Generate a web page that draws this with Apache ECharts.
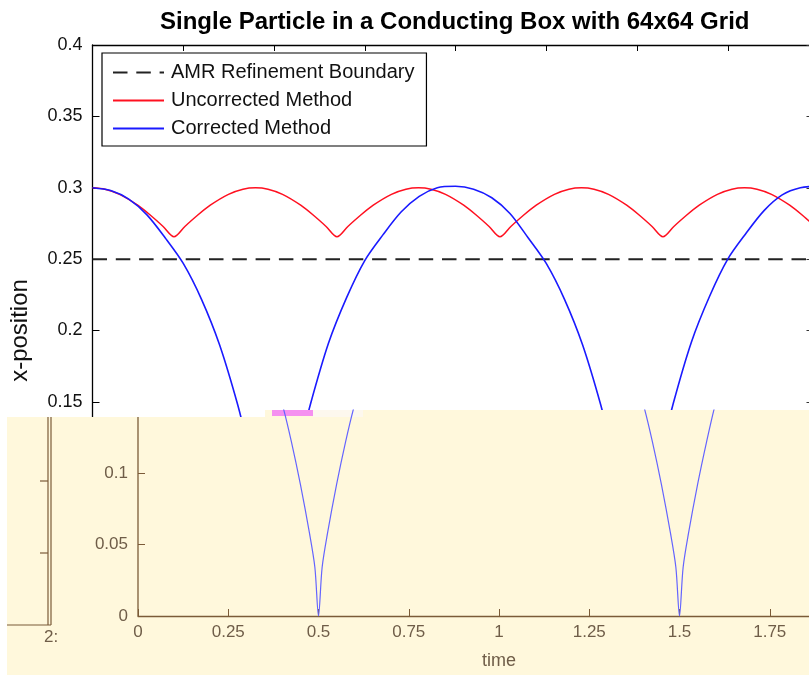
<!DOCTYPE html>
<html>
<head>
<meta charset="utf-8">
<script src="https://cdn.jsdelivr.net/npm/echarts@6/dist/echarts.min.js"></script>
<style>
html,body{margin:0;padding:0;background:#fff;}
#chart{width:809px;height:675px;}
</style>
</head>
<body>
<div id="chart"></div>
<script>
// ---- data ----
const titleText = 'Single Particle in a Conducting Box with 64x64 Grid';
const seriesNames = ['AMR Refinement Boundary', 'Uncorrected Method', 'Corrected Method'];

const boundaryTime = [0, 2];
const boundaryX = [0.25, 0.25];

const uncorrTime = [0, 0.0345, 0.0745, 0.1245, 0.1645, 0.1945, 0.2245, 0.2545, 0.2845, 0.3245, 0.3745, 0.4145, 0.449,
  0.4835, 0.5235, 0.5735, 0.6135, 0.6435, 0.6735, 0.7035, 0.7335, 0.7735, 0.8235, 0.8635, 0.898,
  0.9325, 0.9725, 1.0225, 1.0625, 1.0925, 1.1225, 1.1525, 1.1825, 1.2225, 1.2725, 1.3125, 1.347,
  1.3815, 1.4215, 1.4715, 1.5115, 1.5415, 1.5715, 1.6015, 1.6315, 1.6715, 1.7215, 1.7615, 1.796,
  1.8305, 1.8705, 1.9205, 1.9605, 1.9905, 2.0];
const uncorrX = [0.300, 0.299, 0.2954, 0.2878, 0.2797, 0.2729, 0.2657, 0.2729, 0.2797, 0.2878, 0.2954, 0.299, 0.300,
  0.299, 0.2954, 0.2878, 0.2797, 0.2729, 0.2657, 0.2729, 0.2797, 0.2878, 0.2954, 0.299, 0.300,
  0.299, 0.2954, 0.2878, 0.2797, 0.2729, 0.2657, 0.2729, 0.2797, 0.2878, 0.2954, 0.299, 0.300,
  0.299, 0.2954, 0.2878, 0.2797, 0.2729, 0.2657, 0.2729, 0.2797, 0.2878, 0.2954, 0.299, 0.300,
  0.299, 0.2954, 0.2878, 0.2797, 0.2729, 0.271];

const corrTime = [0, 0.05, 0.1, 0.15, 0.2, 0.25, 0.3, 0.35, 0.4, 0.425, 0.45, 0.475, 0.49, 0.5,
  0.51, 0.525, 0.55, 0.575, 0.6, 0.65, 0.7, 0.75, 0.8, 0.85, 0.9, 0.95, 1.0,
  1.05, 1.1, 1.15, 1.2, 1.25, 1.3, 1.35, 1.4, 1.425, 1.45, 1.475, 1.49, 1.5,
  1.51, 1.525, 1.55, 1.575, 1.6, 1.65, 1.7, 1.75, 1.8, 1.85, 1.9, 1.95, 2.0];
const corrX = [0.300, 0.298, 0.292, 0.281, 0.265, 0.247, 0.222, 0.190, 0.148, 0.122, 0.092, 0.058, 0.034, 0.000,
  0.034, 0.058, 0.092, 0.122, 0.148, 0.191, 0.223, 0.249, 0.267, 0.283, 0.294, 0.300, 0.301,
  0.299, 0.293, 0.282, 0.265, 0.247, 0.222, 0.190, 0.148, 0.122, 0.092, 0.058, 0.034, 0.000,
  0.034, 0.058, 0.092, 0.122, 0.149, 0.192, 0.224, 0.250, 0.268, 0.284, 0.295, 0.300, 0.301];

const xTicks = { min: 0, max: 2, step: 0.25 };
const yTicks = { min: 0, max: 0.4, step: 0.05 };

const pairs = (t, v) => t.map((x, i) => [x, v[i]]);

const FONT = '"Liberation Sans", Arial, sans-serif';
const BROWN = '#7b5b38';
const BROWN_TXT = '#6f5d48';

const chart = echarts.init(document.getElementById('chart'), null, {renderer: 'canvas'});

const option = {
  animation: false,
  backgroundColor: '#ffffff',
  title: {
    text: titleText,
    left: 155, top: 5,
    textStyle: {fontFamily: FONT, fontSize: 24, fontWeight: 'bold', color: '#000'}
  },
  legend: {
    data: seriesNames,
    orient: 'vertical',
    left: 102, top: 53,
    padding: [9, 12, 7, 10],
    itemGap: 7,
    itemWidth: 51, itemHeight: 14,
    backgroundColor: '#ffffff',
    borderColor: '#000', borderWidth: 1.2,
    itemStyle: {opacity: 0},
    textStyle: {fontFamily: FONT, fontSize: 20, color: '#111', lineHeight: 21, padding: [0, 0, 0, 2]},
    z: 10
  },
  grid: [
    {left: 92.5, top: 45, width: 726, height: 571, containLabel: false, outerBoundsMode: 'none'},
    {left: 138, top: 410, width: 722, height: 206, containLabel: false, outerBoundsMode: 'none'}
  ],
  xAxis: [
    {gridIndex: 0, type: 'value', min: xTicks.min, max: xTicks.max, interval: xTicks.step, position: 'bottom',
      axisLine: {onZero: false, lineStyle: {color: '#000', width: 1.3}}, axisTick: {inside: true, length: 7, lineStyle: {color: '#000'}},
      axisLabel: {show: false}, splitLine: {show: false}},
    {gridIndex: 0, type: 'value', min: xTicks.min, max: xTicks.max, interval: xTicks.step, position: 'top',
      axisLine: {show: true, onZero: false, lineStyle: {color: '#000', width: 1.3}}, axisTick: {show: true, inside: true, length: 6, lineStyle: {color: '#000'}},
      axisLabel: {show: false}, splitLine: {show: false}},
    {gridIndex: 1, type: 'value', min: xTicks.min, max: xTicks.max, interval: xTicks.step, position: 'bottom', z: 60,
      axisLine: {onZero: false, lineStyle: {color: BROWN, width: 1.3}}, axisTick: {inside: true, length: 7, lineStyle: {color: BROWN}},
      axisLabel: {fontFamily: FONT, fontSize: 17, color: BROWN_TXT, margin: 8},
      splitLine: {show: false},
      name: 'time', nameLocation: 'middle', nameGap: 36,
      nameTextStyle: {fontFamily: FONT, fontSize: 18, color: BROWN_TXT}}
  ],
  yAxis: [
    {gridIndex: 0, type: 'value', min: yTicks.min, max: yTicks.max, interval: yTicks.step, position: 'left',
      axisLine: {show: true, onZero: false, lineStyle: {color: '#000', width: 1.3}},
      axisTick: {show: true, inside: true, length: 7, lineStyle: {color: '#000'}},
      axisLabel: {fontFamily: FONT, fontSize: 18, color: '#111', margin: 10,
        formatter: v => (v >= 0.149 ? String(+v.toFixed(2)) : '')},
      splitLine: {show: false},
      name: 'x-position', nameLocation: 'middle', nameGap: 60, nameRotate: 90,
      nameTextStyle: {fontFamily: FONT, fontSize: 24, color: '#111'}},
    {gridIndex: 0, type: 'value', min: yTicks.min, max: yTicks.max, interval: yTicks.step, position: 'right',
      axisLine: {show: true, onZero: false, lineStyle: {color: '#000'}},
      axisTick: {show: true, inside: true, length: 12, lineStyle: {color: '#333'}},
      axisLabel: {show: false}, splitLine: {show: false}},
    {gridIndex: 1, type: 'value', min: 0, max: 0.1443, interval: 0.05, position: 'left', z: 60,
      axisLine: {show: false, onZero: false},
      axisTick: {show: true, inside: true, length: 7, lineStyle: {color: BROWN}},
      axisLabel: {fontFamily: FONT, fontSize: 17, color: BROWN_TXT, margin: 10, showMaxLabel: false,
        formatter: v => String(+v.toFixed(2))},
      splitLine: {show: false}}
  ],
  series: [
    {name: seriesNames[0], type: 'line', xAxisIndex: 0, yAxisIndex: 0, showSymbol: false, symbol: 'none',
      data: pairs(boundaryTime, boundaryX),
      lineStyle: {color: '#222', width: 2, type: [14.5, 8.8]}, itemStyle: {color: '#222'}},
    {name: seriesNames[1], type: 'line', xAxisIndex: 0, yAxisIndex: 0, showSymbol: false, symbol: 'none', smooth: 0.3,
      data: pairs(uncorrTime, uncorrX),
      lineStyle: {color: '#ff1020', width: 1.5}, itemStyle: {color: '#ff1020'}},
    {name: seriesNames[2], type: 'line', xAxisIndex: 0, yAxisIndex: 0, showSymbol: false, symbol: 'none', smooth: 0.3,
      data: pairs(corrTime, corrX),
      lineStyle: {color: '#1a1aff', width: 1.6}, itemStyle: {color: '#1a1aff'}},
    {name: 'Corrected (inset)', type: 'line', xAxisIndex: 2, yAxisIndex: 2, showSymbol: false, symbol: 'none', smooth: 0.3,
      data: pairs(corrTime, corrX), z: 60, clip: true, legendHoverLink: false,
      lineStyle: {color: '#6464ff', width: 1.2}, itemStyle: {color: '#6464ff'}}
  ],
  graphic: [
    {type: 'polygon', z: 50, silent: true,
      shape: {points: [[7, 417], [265, 417], [265, 410], [809, 410], [809, 675], [7, 675]]},
      style: {fill: '#fff8dc'}},
    {type: 'rect', z: 51, silent: true, shape: {x: 272, y: 410, width: 41, height: 6}, style: {fill: '#f590f0'}},
    {type: 'rect', z: 51, silent: true, shape: {x: 313, y: 410, width: 50, height: 7}, style: {fill: '#fdf8ee'}},
    {type: 'line', z: 55, silent: true, shape: {x1: 48, y1: 417, x2: 48, y2: 625}, style: {stroke: BROWN, lineWidth: 1.2}},
    {type: 'line', z: 55, silent: true, shape: {x1: 51, y1: 417, x2: 51, y2: 625}, style: {stroke: BROWN, lineWidth: 1.2}},
    {type: 'line', z: 55, silent: true, shape: {x1: 7, y1: 625, x2: 51, y2: 625}, style: {stroke: BROWN, lineWidth: 1.2}},
    {type: 'line', z: 55, silent: true, shape: {x1: 40, y1: 481, x2: 48, y2: 481}, style: {stroke: BROWN, lineWidth: 1.2}},
    {type: 'line', z: 55, silent: true, shape: {x1: 40, y1: 553, x2: 48, y2: 553}, style: {stroke: BROWN, lineWidth: 1.2}},
    {type: 'text', z: 55, silent: true, x: 44, y: 629,
      style: {text: '2:', font: '17px "Liberation Sans", Arial, sans-serif', fill: BROWN_TXT}},
    {type: 'line', z: 61, silent: true, shape: {x1: 138, y1: 417, x2: 138, y2: 616}, style: {stroke: BROWN, lineWidth: 1.3}}
  ]
};
chart.setOption(option);
</script>
</body>
</html>
